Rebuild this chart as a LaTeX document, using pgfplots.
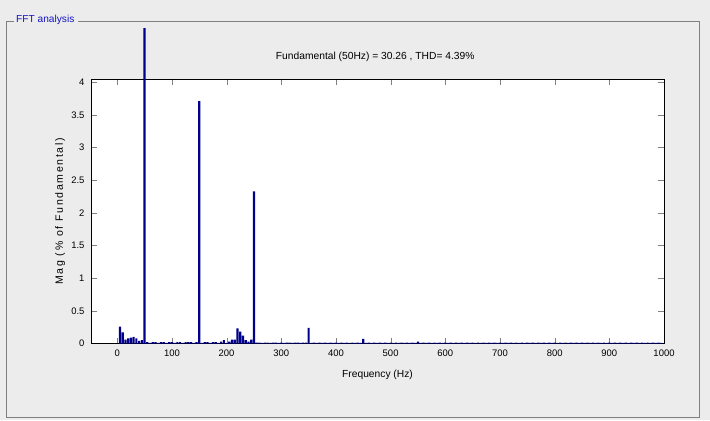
\documentclass[border=0pt]{standalone}
\usepackage{pgfplots}
\pgfplotsset{compat=1.18}
\usepackage{fontspec}
\setmainfont{Liberation Sans}
\newfontfamily\spacedfont[LetterSpace=16]{Liberation Sans}
\definecolor{bg}{RGB}{236,236,236}
\definecolor{framegray}{RGB}{128,128,128}
\definecolor{barblue}{RGB}{0,0,140}
\definecolor{titleblue}{RGB}{20,20,200}
\begin{document}
\begin{tikzpicture}[x=1bp,y=1bp]
\fill[bg] (0,0) rectangle (710,420);
% group box
\draw[framegray,line width=0.8bp] (14,399) -- (6,399) -- (6,3) -- (699,3) -- (699,399) -- (78,399);
\node[anchor=west,inner sep=0pt,text=titleblue,font=\fontsize{10.2}{12}\selectfont] at (16,400) {FFT analysis};
\begin{axis}[
  at={(91bp,76.5bp)}, anchor=south west,
  scale only axis, width=573bp, height=264.5bp,
  xmin=-48, xmax=1000, ymin=0, ymax=4.05,
  xtick={0,100,...,1000}, ytick={0,0.5,...,4},
  tick align=inside, major tick length=6bp,
  axis background/.style={fill=white},
  axis line style={line width=0.8bp},
  clip=false,
  /pgf/number format/assume math mode=true,
  /pgf/number format/1000 sep={},
  tick label style={font=\fontsize{9.5}{11}\selectfont},
  xticklabel style={yshift=-2.5bp},
  yticklabel style={xshift=-3bp},
  scaled y ticks=false,
  title={Fundamental (50Hz) = 30.26 , THD= 4.39\%},
  title style={at={(axis description cs:0.496,1.06)},anchor=center,font=\fontsize{10.3}{12}\selectfont},
  xlabel={Frequency (Hz)},
  xlabel style={at={(axis description cs:0.5,-0.119)},anchor=center,font=\fontsize{10.3}{12}\selectfont},
  ylabel={Mag (\% of Fundamental)},
  ylabel style={at={(axis description cs:-0.054,0.5)},anchor=center,font=\spacedfont\fontsize{10.6}{12}\selectfont},
]
\addplot[ybar, bar width=4, bar shift=0pt, fill=barblue, draw=none] coordinates {
(5,0.26) (10,0.17) (15,0.06) (20,0.08) (25,0.09) (30,0.10) (35,0.08) (40,0.04) (45,0.05) (50,4.83)
(55,0.02) (60,0.01) (65,0.02) (70,0.02) (75,0.01) (80,0.02) (85,0.02) (90,0.01) (95,0.02) (100,0.02)
(105,0.01) (110,0.02) (115,0.02) (120,0.01) (125,0.02) (130,0.02) (135,0.02) (140,0.01) (145,0.02) (150,3.71)
(155,0.01) (160,0.02) (165,0.02) (170,0.01) (175,0.02) (180,0.02) (185,0.01) (190,0.03) (195,0.05) (200,0.01)
(205,0.03) (210,0.06) (215,0.06) (220,0.23) (225,0.18) (230,0.12) (235,0.05) (240,0.03) (245,0.06) (250,2.33)
(255,0.015) (260,0.015) (265,0.01) (270,0.015) (275,0.015) (280,0.01) (285,0.015) (290,0.015) (295,0.01) (300,0.015)
(305,0.01) (310,0.015) (315,0.015) (320,0.01) (325,0.015) (330,0.015) (335,0.01) (340,0.015) (345,0.015) (350,0.24)
(355,0.01) (360,0.015) (365,0.01) (370,0.015) (375,0.01) (380,0.015) (385,0.01) (390,0.015) (395,0.01) (400,0.015)
(405,0.01) (410,0.015) (415,0.01) (420,0.015) (425,0.01) (430,0.015) (435,0.01) (440,0.015) (445,0.01) (450,0.07)
(455,0.01) (460,0.015) (465,0.01) (470,0.015) (475,0.01) (480,0.015) (485,0.01) (490,0.015) (495,0.01) (500,0.015)
(505,0.01) (510,0.015) (515,0.01) (520,0.015) (525,0.01) (530,0.015) (535,0.01) (540,0.015) (545,0.01) (550,0.03)
(555,0.01) (560,0.015) (565,0.01) (570,0.015) (575,0.01) (580,0.015) (585,0.01) (590,0.015) (595,0.01) (600,0.015)
(605,0.01) (610,0.015) (615,0.01) (620,0.015) (625,0.01) (630,0.015) (635,0.01) (640,0.015) (645,0.01) (650,0.015)
(655,0.01) (660,0.015) (665,0.01) (670,0.015) (675,0.01) (680,0.015) (685,0.01) (690,0.015) (695,0.01) (700,0.015)
(705,0.01) (710,0.015) (715,0.01) (720,0.015) (725,0.01) (730,0.015) (735,0.01) (740,0.015) (745,0.01) (750,0.015)
(755,0.01) (760,0.015) (765,0.01) (770,0.015) (775,0.01) (780,0.015) (785,0.01) (790,0.015) (795,0.01) (800,0.015)
(805,0.01) (810,0.015) (815,0.01) (820,0.015) (825,0.01) (830,0.015) (835,0.01) (840,0.015) (845,0.01) (850,0.015)
(855,0.01) (860,0.015) (865,0.01) (870,0.015) (875,0.01) (880,0.015) (885,0.01) (890,0.015) (895,0.01) (900,0.015)
(905,0.01) (910,0.015) (915,0.01) (920,0.015) (925,0.01) (930,0.015) (935,0.01) (940,0.015) (945,0.01) (950,0.015)
(955,0.01) (960,0.015) (965,0.01) (970,0.015) (975,0.01) (980,0.015) (985,0.01) (990,0.015) (995,0.01)
};
\end{axis}
\end{tikzpicture}
\end{document}
